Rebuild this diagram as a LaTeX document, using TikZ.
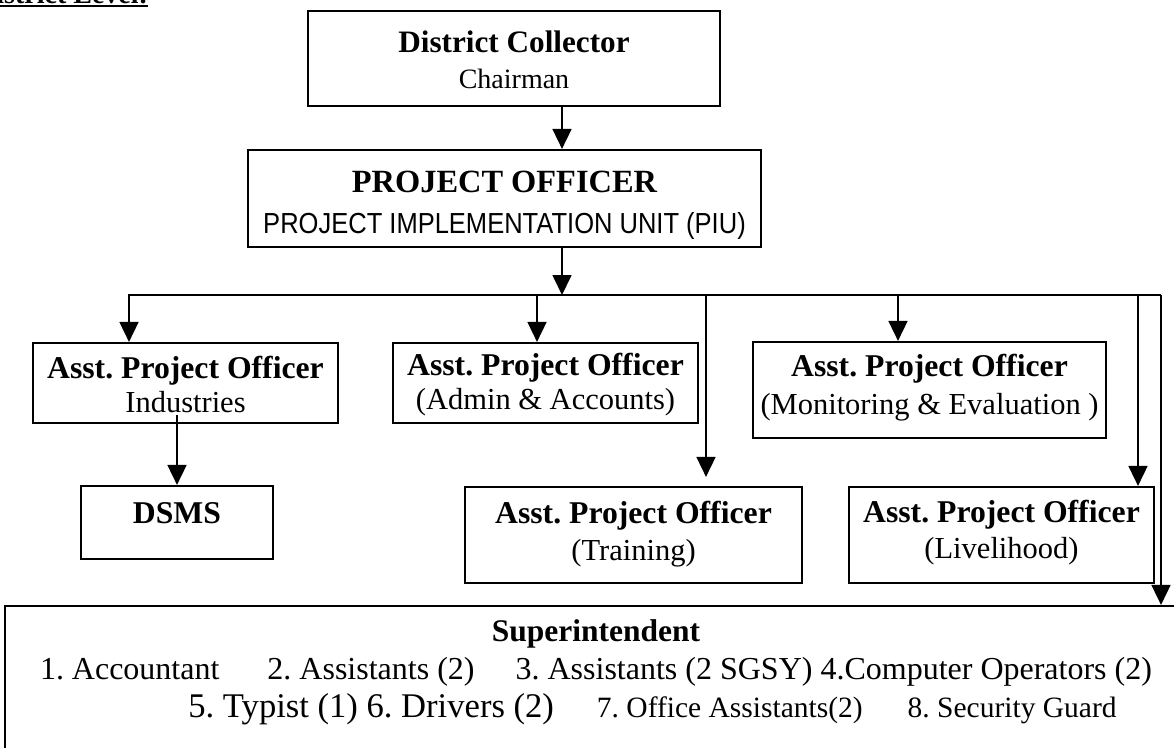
\documentclass[tikz,border=0pt]{standalone}
\usepackage{fontspec}
\setmainfont{Liberation Serif}
\newfontfamily\piufont[FakeStretch=0.88]{Liberation Sans}
\usetikzlibrary{arrows.meta}
\frenchspacing
\newcommand{\boxhead}{\fontsize{31.7pt}{36pt}\selectfont\bfseries}
\newcommand{\boxsub}{\fontsize{30.5pt}{36pt}\selectfont}
\newcommand{\hstrut}{\rule{0pt}{26pt}}
\newcommand{\dstrut}[1]{\rule[-#1]{0pt}{#1}}

\begin{document}
\begin{tikzpicture}[
    x=1pt, y=-1pt,
    box/.style={draw, line width=2.2pt, rectangle, inner sep=0pt, align=center, font=\boxsub},
    link/.style={line width=1.7pt},
    arr/.style={link, -{Triangle[length=20pt, width=19pt]}}
]
    \useasboundingbox (0,0) rectangle (1174,747);

    \node[anchor=base west, inner sep=0pt, font=\fontsize{28pt}{30pt}\selectfont\bfseries] (level) at (-24,3.5) {District Level:};
    \draw[line width=2.6pt] ([yshift=-2.5pt]level.base west) -- ([yshift=-2.5pt]level.base east);

    \node[box, minimum width=412pt, minimum height=95pt] (dc) at (514,58.5) {\hstrut{\fontsize{31.2pt}{36pt}\selectfont\bfseries District Collector}\\{\fontsize{28pt}{36pt}\selectfont Chairman}\dstrut{3pt}};
    \node[box, minimum width=513pt, minimum height=97pt] (po) at (504.5,198.5) {\rule{0pt}{34pt}{\fontsize{32.4pt}{36pt}\selectfont\bfseries PROJECT OFFICER}\\[5pt]{\piufont\fontsize{29pt}{36pt}\selectfont PROJECT IMPLEMENTATION UNIT (PIU)}\dstrut{6pt}};

    \node[box, minimum width=305pt, minimum height=80pt] (ind) at (185.5,383) {\hstrut{\boxhead Asst. Project Officer}\\[-2pt]Industries\dstrut{2pt}};
    \node[box, minimum width=305pt, minimum height=80pt] (adm) at (545.5,383) {\hstrut{\boxhead Asst. Project Officer}\\[-2pt](Admin \& Accounts)\dstrut{2pt}};
    \node[box, minimum width=353pt, minimum height=96pt] (mne) at (929.5,390) {\hstrut{\boxhead Asst. Project Officer}\\[2pt](Monitoring \& Evaluation )\dstrut{15pt}};
    \node[box, minimum width=192pt, minimum height=73pt] (dsms) at (177,522.5) {\hstrut\boxhead DSMS\dstrut{25pt}};
    \node[box, minimum width=337pt, minimum height=96pt] (trn) at (633.5,535) {\hstrut{\boxhead Asst. Project Officer}\\[1pt](Training)\dstrut{13pt}};
    \node[box, minimum width=305pt, minimum height=96pt] (liv) at (1001.5,535) {\hstrut{\boxhead Asst. Project Officer}\\(Livelihood)\dstrut{16pt}};

    \node[box, minimum width=1190pt, minimum height=170pt] (super) at (600,691) {};
    \node[anchor=north, inner sep=0pt, align=center, font=\fontsize{32pt}{38pt}\selectfont] (staff) at ([xshift=-4pt, yshift=-10pt]super.north) {\hstrut{\fontsize{31.5pt}{38pt}\selectfont\bfseries Superintendent}\\
        1. Accountant\hspace{48pt}2. Assistants (2)\hspace{41pt}3. Assistants (2 SGSY) 4.Computer Operators (2)\\
        \hspace*{113pt}{\fontsize{34.6pt}{38pt}\selectfont 5. Typist (1) 6. Drivers (2)}\hspace{43pt}{\fontsize{29.5pt}{38pt}\selectfont 7. Office Assistants(2)\hspace{45pt}8. Security Guard}};

    \coordinate (bus) at (562,295);
    \coordinate (busL) at (129,295);
    \coordinate (busR) at (1161,295);
    \coordinate (dadm) at (537,295);
    \coordinate (dtrn) at (706,295);
    \coordinate (dmne) at (898,295);
    \coordinate (dliv) at (1138,295);

    \draw[arr] (bus |- dc.south) -- (bus |- po.north);
    \draw[arr] (bus |- po.south) -- (bus);
    \draw[arr] (busR) -- (busL) -- (busL |- ind.north);
    \draw[arr] (busR) -- (busR |- super.north);
    \draw[arr] (dadm) -- (dadm |- adm.north);
    \draw[arr] (dtrn) -- ([yshift=9pt]dtrn |- trn.north);
    \draw[arr] (dmne) -- (dmne |- mne.north);
    \draw[arr] (dliv) -- (dliv |- liv.north);
    \draw[arr] ([yshift=9pt]dsms.north |- ind.south) -- (dsms.north);
\end{tikzpicture}
\end{document}
